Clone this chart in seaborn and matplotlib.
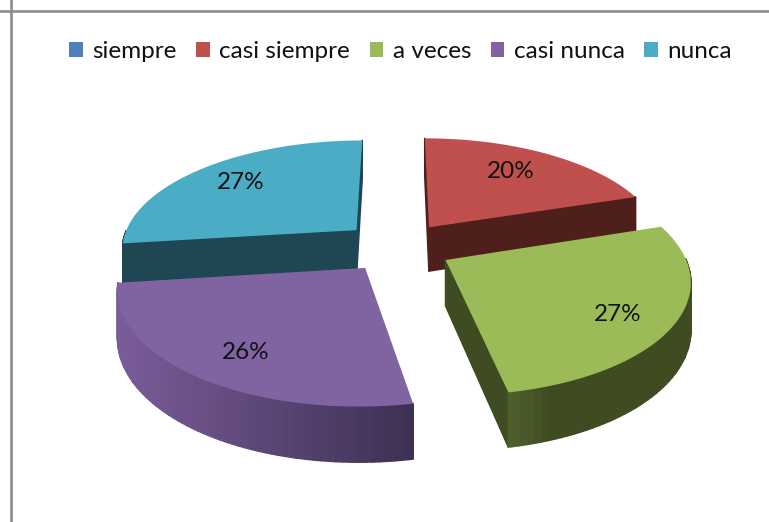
import numpy as np
import matplotlib
matplotlib.use('Agg')
import matplotlib.pyplot as plt
import seaborn as sns
from matplotlib.collections import PolyCollection
from matplotlib.colors import to_rgb
from matplotlib.path import Path
from matplotlib.transforms import Affine2D, Transform

# data
categorias = ['siempre', 'casi siempre', 'a veces', 'casi nunca', 'nunca']
porcentajes = [0, 20, 27, 26, 27]

# estilo
colores = ['#4F81BD', '#C0504D', '#9BBB59', '#8064A2', '#4BACC6']
lado_izq = ['#3A5F8C', '#4F1F1C', '#4E5F2C', '#7A5C9A', '#1E4653']
lado_der = ['#3A5F8C', '#4F1F1C', '#3F4C22', '#3D2F52', '#1E4653']
lado_radial = ['#3A5F8C', '#4F1F1C', '#3F4C22', '#3D2F52', '#1E4653']
fin_gradiente = [1, 1, 0.2, 1, 1]
dist_etiqueta = [0.7, 0.72, 0.79, 0.78, 0.74]
giro_etiqueta = [0, -2, 4, -3, 0]  # grados, sentido horario
explosion = [0.23, 0.23, 0.23, 0.23, 0.24]
orden_dibujo = [4, 1, 3, 2, 0]

# perspectiva del pastel 3D (en pixeles)
CX, CY = 398, 247
ESC_X, ESC_Y = 236, 109
PERSP = 0.16
ALTO = 45


def proyectar(xy, z=0.0):
    xy = np.asarray(xy, dtype=float)
    s = 1 / (1 + PERSP * xy[:, 1])
    return np.column_stack([CX + ESC_X * xy[:, 0] * s,
                            CY - ESC_Y * xy[:, 1] * s + ALTO * z * s])


def aplanar(path):
    # to_polygons simplifica en unidades de pixel, asi que se escala antes
    fino = path.transformed(Affine2D().scale(1000)).to_polygons(closed_only=False)[0]
    return fino / 1000


class VistaPastel(Transform):
    input_dims = 2
    output_dims = 2
    is_separable = False

    def transform_non_affine(self, values):
        return proyectar(values)

    def transform_path_non_affine(self, path):
        return Path(proyectar(aplanar(path)))


sns.set_style('white')
plt.rcParams['font.family'] = ['Lato', 'DejaVu Sans']

fig = plt.figure(figsize=(7.69, 5.22), dpi=100)
ax = fig.add_axes([0, 0, 1, 1])

wedges, _, autotexts = ax.pie(
    porcentajes,
    colors=colores,
    startangle=90,
    counterclock=False,
    explode=explosion,
    autopct=lambda p: f'{p:.0f}%' if p > 0 else '',
    wedgeprops={'linewidth': 0},
)

ax.set_aspect('auto')
ax.set_xlim(0, 769)
ax.set_ylim(522, 0)
ax.set_xticks([])
ax.set_yticks([])
ax.set_frame_on(True)
for lado in ['right', 'bottom']:
    ax.spines[lado].set_visible(False)
for lado in ['left', 'top']:
    ax.spines[lado].set_position(('data', 10.5))
    ax.spines[lado].set_color('#8c8c8c')
    ax.spines[lado].set_linewidth(1.9)

vista = VistaPastel() + ax.transData

for capa, i in enumerate(orden_dibujo):
    w = wedges[i]
    if porcentajes[i] == 0:
        continue
    w.set_transform(vista)
    w.set_zorder(2 * capa + 2)

    medio = np.deg2rad((w.theta1 + w.theta2) / 2)
    bisectriz = np.array([np.cos(medio), np.sin(medio)])
    interior = np.array(w.center) + 0.5 * bisectriz

    # caras laterales: solo las que miran al frente, de izquierda a derecha en profundidad
    borde = aplanar(w.get_path())
    arriba = proyectar(borde, 0.0)
    abajo = proyectar(borde, 1.0)
    en_arco = np.abs(np.hypot(*(borde - np.array(w.center)).T) - w.r) < 0.01
    x_min, x_max = arriba[en_arco, 0].min(), arriba[en_arco, 0].max()
    caras, tonos, fondo = [], [], []
    for a in range(len(borde) - 1):
        if np.allclose(borde[a], borde[a + 1]):
            continue
        d = borde[a + 1] - borde[a]
        normal = np.array([d[1], -d[0]])
        if np.dot(normal, interior - (borde[a] + borde[a + 1]) / 2) > 0:
            normal = -normal
        if normal[1] > 1e-6:
            continue
        caras.append([arriba[a], arriba[a + 1], abajo[a + 1], abajo[a]])
        fondo.append(-(borde[a, 1] + borde[a + 1, 1]))
        if not (en_arco[a] and en_arco[a + 1]):
            tonos.append(to_rgb(lado_radial[i]))
        else:
            t = (arriba[a, 0] - x_min) / max(x_max - x_min, 1)
            t = min(t / fin_gradiente[i], 1)
            tonos.append(tuple((1 - t) * np.array(to_rgb(lado_izq[i])) + t * np.array(to_rgb(lado_der[i]))))
    orden = np.argsort(fondo)
    ax.add_collection(PolyCollection(
        [caras[o] for o in orden],
        facecolors=[tonos[o] for o in orden],
        edgecolors=[tonos[o] for o in orden],
        linewidths=1.2,
        zorder=2 * capa + 1,
    ))

    # etiqueta de porcentaje
    angulo = np.deg2rad((w.theta1 + w.theta2) / 2 - giro_etiqueta[i])
    pos = np.array(w.center) + dist_etiqueta[i] * np.array([np.cos(angulo), np.sin(angulo)])
    t = autotexts[i]
    t.set_position(proyectar([pos])[0])
    t.set_fontsize(17.5)
    t.set_color('#111111')
    t.set_ha('center')
    t.set_va('center')
    t.set_zorder(40)

ax.legend(
    wedges, categorias,
    loc='upper center',
    bbox_to_anchor=(0.521, 0.944),
    ncol=5,
    frameon=False,
    fontsize=17.5,
    handlelength=0.55,
    handleheight=0.55,
    handletextpad=0.4,
    columnspacing=0.8,
    borderpad=0,
    labelcolor='#111111',
)

fig.savefig('out.png', dpi=100)
